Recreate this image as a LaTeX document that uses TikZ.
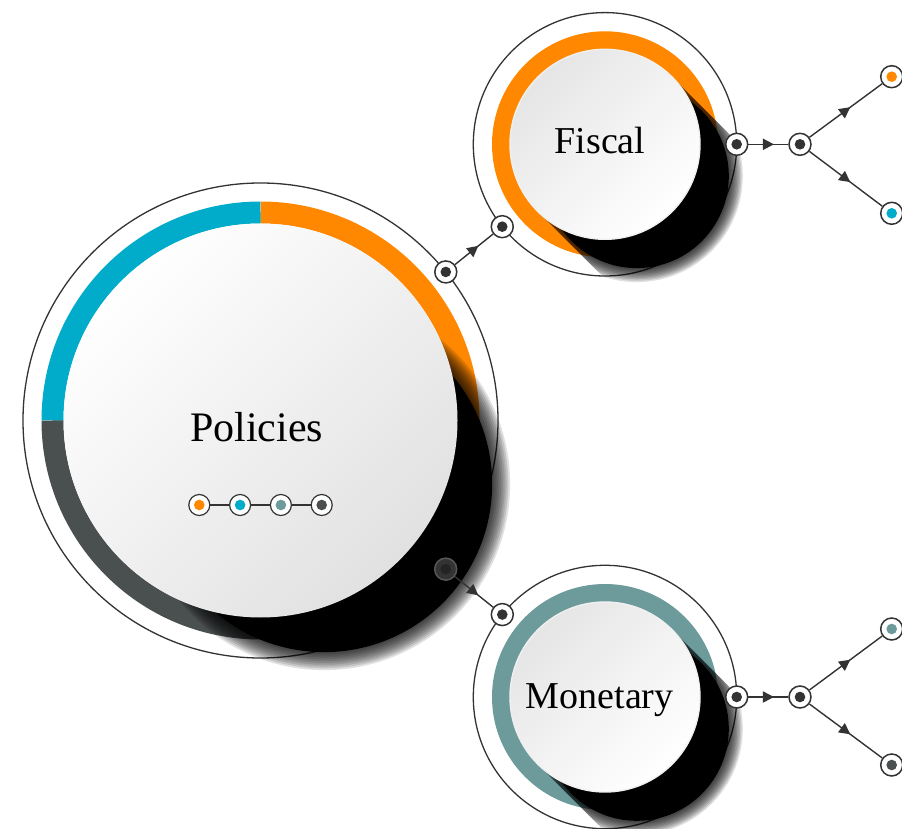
\documentclass[tikz,border=0pt]{standalone}
\usepackage{fontspec}
\setmainfont{Liberation Serif}
\usetikzlibrary{calc,decorations.markings}
\definecolor{cOrange}{HTML}{FF8800}
\definecolor{cCyan}{HTML}{00ACC9}
\definecolor{cGrey}{HTML}{4A4F50}
\definecolor{cTeal}{HTML}{6D9A9B}
\definecolor{cDark}{HTML}{333333}
\definecolor{cInner}{HTML}{E1E1E1}
% long shadow: #1 centre, #2 inner radius, #3 offset, #4 clip radius, #5 fade step
\newcommand\lshadow[5]{%
  \begin{scope}[shift={(#1)}]
    \clip (45:#2pt) -- ++(-45:700pt) -- ++(225:{2*#2pt}) -- (225:#2pt) -- cycle;
    \fill[black] (-45:#3pt) circle[radius=#4pt];
    \foreach \k in {1,...,10}{\fill[black,opacity=0.12] (-45:#3pt) circle[radius={#4pt+\k*#5pt}];}
  \end{scope}}
\tikzset{
  ringline/.style={draw=cDark, line width=1.3pt},
  pnode/.style={circle, draw=cDark, line width=1.5pt, fill=white, minimum size=22pt, inner sep=0pt,
    path picture={\fill[#1] (path picture bounding box.center) circle[radius=5.3pt];}},
  pnode/.default=cDark,
  link/.style={draw=cDark, line width=1.4pt, postaction={decorate},
    decoration={markings, mark=at position 0.5 with {\fill[cDark] (5.5pt,0pt) -- (-5.5pt,5.8pt) -- (-5.5pt,-5.8pt) -- cycle;}}},
  plain/.style={draw=cDark, line width=1.3pt},
  bigtitle/.style={font=\fontsize{42}{44}\selectfont, anchor=base, inner sep=0pt},
  smalltitle/.style={font=\fontsize{38}{40}\selectfont, anchor=base, inner sep=0pt},
}
\begin{document}
\begin{tikzpicture}[x=1pt,y=1pt]
\useasboundingbox (0,0) rectangle (902,828);
\coordinate (M) at (260.5,407.5);
\coordinate (F) at (605,683.7);
\coordinate (N) at (605,131);

% ---- main circle
\draw[ringline] (M) circle[radius=237.5pt];
\draw[cOrange, line width=22pt] (M) ++(0:208pt) arc[start angle=0, end angle=90, radius=208pt];
\draw[cCyan, line width=22pt] (M) ++(90:208pt) arc[start angle=90, end angle=180, radius=208pt];
\draw[cGrey, line width=22pt] (M) ++(180:208pt) arc[start angle=180, end angle=270, radius=208pt];
\draw[cGrey, line width=22pt] (M) ++(270:208pt) arc[start angle=270, end angle=360, radius=208pt];
\lshadow{M}{197}{90}{168}{1.8}
\shade[top color=white, bottom color=cInner, shading angle=45] (M) circle[radius=197pt];
\node[bigtitle] (tPol) at (256.5,386.3) {Policies};

% ---- fiscal circle
\draw[ringline] (F) circle[radius=131.7pt];
\draw[cOrange, line width=18pt] (F) circle[radius=104pt];
\lshadow{F}{95}{45}{92}{1.4}
\shade[top color=black!10, bottom color=white, shading angle=45] (F) circle[radius=95pt];
\draw[white!94!black, line width=1.4pt] (F) circle[radius=95pt];
\node[smalltitle] (tFis) at (600,674.7) {Fiscal};

% ---- monetary circle
\draw[ringline] (N) circle[radius=131.7pt];
\draw[cTeal, line width=18pt] (N) circle[radius=104pt];
\lshadow{N}{95}{45}{92}{1.4}
\shade[top color=black!10, bottom color=white, shading angle=45] (N) circle[radius=95pt];
\draw[white!94!black, line width=1.4pt] (N) circle[radius=95pt];
\node[smalltitle] (tMon) at (599.7,119.7) {Monetary};

% ---- legend row inside Policies
\node[pnode=cOrange, minimum size=21pt, line width=1.2pt] (r1) at (199.3,323) {};
\node[pnode=cCyan, minimum size=21pt, line width=1.2pt] (r2) at (240.1,323) {};
\node[pnode=cTeal, minimum size=21pt, line width=1.2pt] (r3) at (280.9,323) {};
\node[pnode=cGrey, minimum size=21pt, line width=1.2pt] (r4) at (321.7,323) {};
\draw[plain] (r1) -- (r2);
\draw[plain] (r2) -- (r3);
\draw[plain] (r3) -- (r4);

% ---- connector nodes
\node[pnode] (A1) at ($(M)!237.5pt!(F)$) {};
\node[pnode] (A2) at ($(F)!131.7pt!(M)$) {};
\node[circle, minimum size=22pt, inner sep=0pt, fill=black!80, draw=black!66, line width=1.5pt,
  path picture={\fill[black!86] (path picture bounding box.center) circle[radius=5.3pt];}]
  (B1) at ($(M)!237.5pt!(N)$) {};
\node[pnode] (B2) at ($(N)!131.7pt!(M)$) {};

\node[pnode] (C1) at (736.7,683.7) {};
\node[pnode] (C2) at (800,683.7) {};
\node[pnode=cOrange] (C3) at (891.7,751.3) {};
\node[pnode=cCyan] (C4) at (891.7,614.7) {};

\node[pnode] (D1) at (736.7,131) {};
\node[pnode] (D2) at (800,131) {};
\node[pnode=cTeal] (D3) at (891.7,199) {};
\node[pnode=cGrey] (D4) at (891.7,63) {};

\draw[link] (A1) -- (A2);
\draw[link] (B1) -- (B2);
\draw[link] (C1) -- (C2);
\draw[link] (C2) -- (C3);
\draw[link] (C2) -- (C4);
\draw[link] (D1) -- (D2);
\draw[link] (D2) -- (D3);
\draw[link] (D2) -- (D4);
\end{tikzpicture}
\end{document}
